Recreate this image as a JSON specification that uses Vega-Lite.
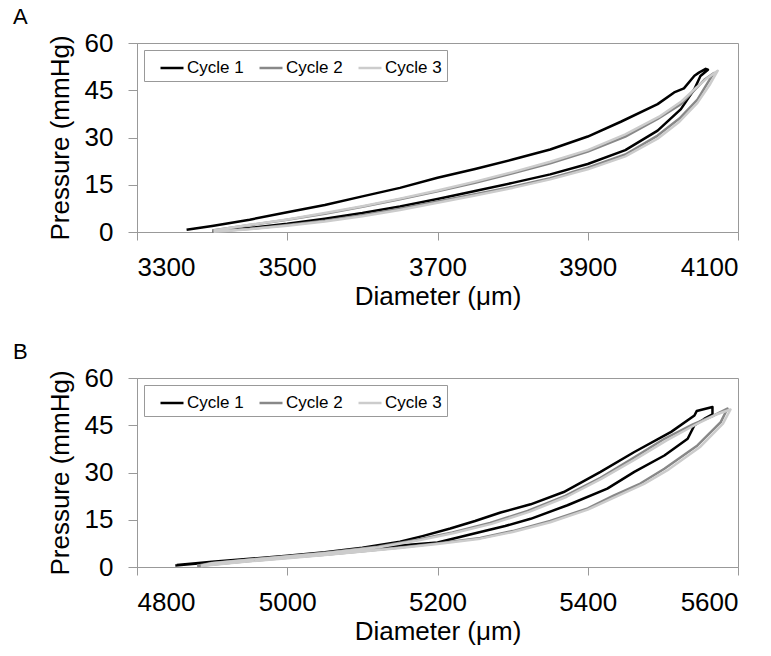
{
  "$schema": "https://vega.github.io/schema/vega-lite/v6.json",
  "background": "white",
  "padding": {"left": 12, "top": 5, "right": 4, "bottom": 5},
  "spacing": 30,
  "config": {
    "font": "Liberation Sans",
    "view": {"stroke": "#999999", "strokeWidth": 1},
    "axis": {
      "grid": false,
      "domainColor": "#999999",
      "tickColor": "#999999",
      "labelColor": "black",
      "titleColor": "black",
      "labelFontSize": 26,
      "titleFontSize": 26,
      "titleFontWeight": "normal",
      "labelFont": "Liberation Sans",
      "titleFont": "Liberation Sans",
      "format": "d"
    },
    "axisX": {"tickSize": 8, "labelPadding": 14, "titlePadding": 3},
    "axisY": {"tickSize": 9, "labelPadding": 15, "titlePadding": 11},
    "title": {"fontSize": 22, "fontWeight": "normal", "anchor": "start", "frame": "bounds", "dx": -34, "offset": 1, "font": "Liberation Sans", "color": "black"},
    "legend": {
      "orient": "top-left",
      "offset": 7,
      "direction": "horizontal",
      "title": null,
      "strokeColor": "#999999",
      "fillColor": "white",
      "padding": 5,
      "symbolType": "stroke",
      "symbolSize": 529,
      "symbolStrokeWidth": 2.5,
      "labelFontSize": 17,
      "labelFont": "Liberation Sans",
      "labelColor": "black",
      "labelOffset": 2,
      "columnPadding": 4,
      "symbolOffset": 10
    }
  },
  "datasets": {
    "a": [
      {"c":"Cycle 1","i":1,"d":3400,"p":0.2},{"c":"Cycle 1","i":2,"d":3450,"p":1.3},{"c":"Cycle 1","i":3,"d":3500,"p":2.6},{"c":"Cycle 1","i":4,"d":3550,"p":4.2},{"c":"Cycle 1","i":5,"d":3600,"p":6.0},{"c":"Cycle 1","i":6,"d":3650,"p":8.1},{"c":"Cycle 1","i":7,"d":3700,"p":10.5},{"c":"Cycle 1","i":8,"d":3750,"p":13.0},{"c":"Cycle 1","i":9,"d":3800,"p":15.6},{"c":"Cycle 1","i":10,"d":3850,"p":18.3},{"c":"Cycle 1","i":11,"d":3900,"p":21.6},{"c":"Cycle 1","i":12,"d":3950,"p":26.0},{"c":"Cycle 1","i":13,"d":3993,"p":32.2},{"c":"Cycle 1","i":14,"d":4024,"p":39.0},{"c":"Cycle 1","i":15,"d":4042,"p":45.4},{"c":"Cycle 1","i":16,"d":4050,"p":49.5},{"c":"Cycle 1","i":17,"d":4060,"p":51.5},
      {"c":"Cycle 1","i":18,"d":4057,"p":51.8},{"c":"Cycle 1","i":19,"d":4048,"p":50.6},{"c":"Cycle 1","i":20,"d":4042,"p":49.6},{"c":"Cycle 1","i":21,"d":4028,"p":45.6},{"c":"Cycle 1","i":22,"d":4015,"p":44.3},{"c":"Cycle 1","i":23,"d":3993,"p":40.6},{"c":"Cycle 1","i":24,"d":3944,"p":35.0},{"c":"Cycle 1","i":25,"d":3900,"p":30.3},{"c":"Cycle 1","i":26,"d":3850,"p":26.2},{"c":"Cycle 1","i":27,"d":3800,"p":23.0},{"c":"Cycle 1","i":28,"d":3750,"p":20.0},{"c":"Cycle 1","i":29,"d":3700,"p":17.2},{"c":"Cycle 1","i":30,"d":3650,"p":14.0},{"c":"Cycle 1","i":31,"d":3600,"p":11.3},{"c":"Cycle 1","i":32,"d":3550,"p":8.6},{"c":"Cycle 1","i":33,"d":3500,"p":6.3},{"c":"Cycle 1","i":34,"d":3450,"p":3.9},{"c":"Cycle 1","i":35,"d":3400,"p":1.9},{"c":"Cycle 1","i":36,"d":3366,"p":0.7},
      {"c":"Cycle 2","i":1,"d":3400,"p":0.1},{"c":"Cycle 2","i":2,"d":3450,"p":1.0},{"c":"Cycle 2","i":3,"d":3500,"p":2.2},{"c":"Cycle 2","i":4,"d":3550,"p":3.6},{"c":"Cycle 2","i":5,"d":3600,"p":5.3},{"c":"Cycle 2","i":6,"d":3650,"p":7.4},{"c":"Cycle 2","i":7,"d":3700,"p":9.7},{"c":"Cycle 2","i":8,"d":3750,"p":12.0},{"c":"Cycle 2","i":9,"d":3800,"p":14.4},{"c":"Cycle 2","i":10,"d":3850,"p":17.1},{"c":"Cycle 2","i":11,"d":3900,"p":20.4},{"c":"Cycle 2","i":12,"d":3950,"p":24.6},{"c":"Cycle 2","i":13,"d":3993,"p":30.6},{"c":"Cycle 2","i":14,"d":4022,"p":36.0},{"c":"Cycle 2","i":15,"d":4046,"p":42.0},{"c":"Cycle 2","i":16,"d":4060,"p":47.5},{"c":"Cycle 2","i":17,"d":4068,"p":50.5},
      {"c":"Cycle 2","i":18,"d":4056,"p":48.5},{"c":"Cycle 2","i":19,"d":4042,"p":45.0},{"c":"Cycle 2","i":20,"d":4024,"p":40.6},{"c":"Cycle 2","i":21,"d":3993,"p":35.9},{"c":"Cycle 2","i":22,"d":3950,"p":30.3},{"c":"Cycle 2","i":23,"d":3900,"p":25.5},{"c":"Cycle 2","i":24,"d":3850,"p":21.8},{"c":"Cycle 2","i":25,"d":3800,"p":18.6},{"c":"Cycle 2","i":26,"d":3750,"p":15.6},{"c":"Cycle 2","i":27,"d":3700,"p":12.9},{"c":"Cycle 2","i":28,"d":3650,"p":10.4},{"c":"Cycle 2","i":29,"d":3600,"p":8.0},{"c":"Cycle 2","i":30,"d":3550,"p":5.8},{"c":"Cycle 2","i":31,"d":3500,"p":3.9},{"c":"Cycle 2","i":32,"d":3450,"p":2.2},{"c":"Cycle 2","i":33,"d":3400,"p":0.5},
      {"c":"Cycle 3","i":1,"d":3402,"p":0.1},{"c":"Cycle 3","i":2,"d":3450,"p":0.9},{"c":"Cycle 3","i":3,"d":3500,"p":2.0},{"c":"Cycle 3","i":4,"d":3550,"p":3.3},{"c":"Cycle 3","i":5,"d":3600,"p":5.0},{"c":"Cycle 3","i":6,"d":3650,"p":7.0},{"c":"Cycle 3","i":7,"d":3700,"p":9.3},{"c":"Cycle 3","i":8,"d":3750,"p":11.6},{"c":"Cycle 3","i":9,"d":3800,"p":14.0},{"c":"Cycle 3","i":10,"d":3850,"p":16.7},{"c":"Cycle 3","i":11,"d":3900,"p":19.9},{"c":"Cycle 3","i":12,"d":3950,"p":24.0},{"c":"Cycle 3","i":13,"d":3993,"p":29.6},{"c":"Cycle 3","i":14,"d":4022,"p":35.0},{"c":"Cycle 3","i":15,"d":4046,"p":41.0},{"c":"Cycle 3","i":16,"d":4063,"p":47.0},{"c":"Cycle 3","i":17,"d":4073,"p":51.2},
      {"c":"Cycle 3","i":18,"d":4060,"p":49.0},{"c":"Cycle 3","i":19,"d":4045,"p":46.0},{"c":"Cycle 3","i":20,"d":4025,"p":41.5},{"c":"Cycle 3","i":21,"d":3995,"p":36.6},{"c":"Cycle 3","i":22,"d":3950,"p":31.0},{"c":"Cycle 3","i":23,"d":3900,"p":26.0},{"c":"Cycle 3","i":24,"d":3850,"p":22.3},{"c":"Cycle 3","i":25,"d":3800,"p":19.0},{"c":"Cycle 3","i":26,"d":3750,"p":16.0},{"c":"Cycle 3","i":27,"d":3700,"p":13.2},{"c":"Cycle 3","i":28,"d":3650,"p":10.6},{"c":"Cycle 3","i":29,"d":3600,"p":8.2},{"c":"Cycle 3","i":30,"d":3550,"p":6.0},{"c":"Cycle 3","i":31,"d":3500,"p":4.0},{"c":"Cycle 3","i":32,"d":3450,"p":2.3},{"c":"Cycle 3","i":33,"d":3402,"p":0.5}
    ],
    "b": [
      {"c":"Cycle 1","i":1,"d":4851,"p":0.5},{"c":"Cycle 1","i":2,"d":4900,"p":1.5},{"c":"Cycle 1","i":3,"d":4950,"p":2.4},{"c":"Cycle 1","i":4,"d":5000,"p":3.3},{"c":"Cycle 1","i":5,"d":5050,"p":4.3},{"c":"Cycle 1","i":6,"d":5100,"p":5.4},{"c":"Cycle 1","i":7,"d":5150,"p":6.8},{"c":"Cycle 1","i":8,"d":5200,"p":7.8},{"c":"Cycle 1","i":9,"d":5257,"p":11.1},{"c":"Cycle 1","i":10,"d":5290,"p":13.0},{"c":"Cycle 1","i":11,"d":5324,"p":15.3},{"c":"Cycle 1","i":12,"d":5373,"p":19.6},{"c":"Cycle 1","i":13,"d":5426,"p":24.9},{"c":"Cycle 1","i":14,"d":5462,"p":30.2},{"c":"Cycle 1","i":15,"d":5502,"p":35.4},{"c":"Cycle 1","i":16,"d":5533,"p":40.7},{"c":"Cycle 1","i":17,"d":5542,"p":45.0},{"c":"Cycle 1","i":18,"d":5555,"p":47.0},{"c":"Cycle 1","i":19,"d":5566,"p":48.5},{"c":"Cycle 1","i":20,"d":5566,"p":50.8},
      {"c":"Cycle 1","i":21,"d":5545,"p":49.5},{"c":"Cycle 1","i":22,"d":5542,"p":48.1},{"c":"Cycle 1","i":23,"d":5511,"p":42.9},{"c":"Cycle 1","i":24,"d":5462,"p":36.5},{"c":"Cycle 1","i":25,"d":5417,"p":30.2},{"c":"Cycle 1","i":26,"d":5368,"p":23.8},{"c":"Cycle 1","i":27,"d":5324,"p":19.9},{"c":"Cycle 1","i":28,"d":5284,"p":17.3},{"c":"Cycle 1","i":29,"d":5250,"p":14.6},{"c":"Cycle 1","i":30,"d":5217,"p":12.2},{"c":"Cycle 1","i":31,"d":5180,"p":9.8},{"c":"Cycle 1","i":32,"d":5150,"p":8.0},{"c":"Cycle 1","i":33,"d":5100,"p":6.1},{"c":"Cycle 1","i":34,"d":5050,"p":4.7},{"c":"Cycle 1","i":35,"d":5000,"p":3.6},{"c":"Cycle 1","i":36,"d":4950,"p":2.6},{"c":"Cycle 1","i":37,"d":4900,"p":1.7},{"c":"Cycle 1","i":38,"d":4853,"p":0.6},
      {"c":"Cycle 2","i":1,"d":4880,"p":0.3},{"c":"Cycle 2","i":2,"d":4950,"p":1.9},{"c":"Cycle 2","i":3,"d":5000,"p":2.9},{"c":"Cycle 2","i":4,"d":5050,"p":3.9},{"c":"Cycle 2","i":5,"d":5100,"p":5.0},{"c":"Cycle 2","i":6,"d":5150,"p":6.2},{"c":"Cycle 2","i":7,"d":5200,"p":7.5},{"c":"Cycle 2","i":8,"d":5257,"p":9.2},{"c":"Cycle 2","i":9,"d":5300,"p":11.4},{"c":"Cycle 2","i":10,"d":5350,"p":14.6},{"c":"Cycle 2","i":11,"d":5400,"p":18.6},{"c":"Cycle 2","i":12,"d":5435,"p":22.7},{"c":"Cycle 2","i":13,"d":5470,"p":26.5},{"c":"Cycle 2","i":14,"d":5502,"p":31.2},{"c":"Cycle 2","i":15,"d":5546,"p":38.6},{"c":"Cycle 2","i":16,"d":5577,"p":46.0},{"c":"Cycle 2","i":17,"d":5586,"p":50.3},
      {"c":"Cycle 2","i":18,"d":5568,"p":48.1},{"c":"Cycle 2","i":19,"d":5540,"p":45.3},{"c":"Cycle 2","i":20,"d":5502,"p":40.7},{"c":"Cycle 2","i":21,"d":5460,"p":34.5},{"c":"Cycle 2","i":22,"d":5417,"p":28.3},{"c":"Cycle 2","i":23,"d":5370,"p":22.6},{"c":"Cycle 2","i":24,"d":5320,"p":17.8},{"c":"Cycle 2","i":25,"d":5270,"p":14.0},{"c":"Cycle 2","i":26,"d":5220,"p":11.0},{"c":"Cycle 2","i":27,"d":5170,"p":8.5},{"c":"Cycle 2","i":28,"d":5120,"p":6.4},{"c":"Cycle 2","i":29,"d":5050,"p":4.5},{"c":"Cycle 2","i":30,"d":5000,"p":3.4},{"c":"Cycle 2","i":31,"d":4950,"p":2.4},{"c":"Cycle 2","i":32,"d":4900,"p":1.3},{"c":"Cycle 2","i":33,"d":4880,"p":0.4},
      {"c":"Cycle 3","i":1,"d":4885,"p":0.3},{"c":"Cycle 3","i":2,"d":4950,"p":1.8},{"c":"Cycle 3","i":3,"d":5000,"p":2.8},{"c":"Cycle 3","i":4,"d":5050,"p":3.8},{"c":"Cycle 3","i":5,"d":5100,"p":4.9},{"c":"Cycle 3","i":6,"d":5150,"p":6.0},{"c":"Cycle 3","i":7,"d":5200,"p":7.3},{"c":"Cycle 3","i":8,"d":5257,"p":9.0},{"c":"Cycle 3","i":9,"d":5300,"p":11.1},{"c":"Cycle 3","i":10,"d":5350,"p":14.2},{"c":"Cycle 3","i":11,"d":5400,"p":18.2},{"c":"Cycle 3","i":12,"d":5440,"p":22.6},{"c":"Cycle 3","i":13,"d":5475,"p":26.4},{"c":"Cycle 3","i":14,"d":5508,"p":31.0},{"c":"Cycle 3","i":15,"d":5550,"p":38.2},{"c":"Cycle 3","i":16,"d":5580,"p":45.5},{"c":"Cycle 3","i":17,"d":5590,"p":50.0},
      {"c":"Cycle 3","i":18,"d":5572,"p":48.5},{"c":"Cycle 3","i":19,"d":5542,"p":45.0},{"c":"Cycle 3","i":20,"d":5505,"p":40.2},{"c":"Cycle 3","i":21,"d":5462,"p":34.0},{"c":"Cycle 3","i":22,"d":5418,"p":28.0},{"c":"Cycle 3","i":23,"d":5372,"p":22.3},{"c":"Cycle 3","i":24,"d":5322,"p":17.5},{"c":"Cycle 3","i":25,"d":5272,"p":13.7},{"c":"Cycle 3","i":26,"d":5222,"p":10.8},{"c":"Cycle 3","i":27,"d":5172,"p":8.3},{"c":"Cycle 3","i":28,"d":5122,"p":6.3},{"c":"Cycle 3","i":29,"d":5050,"p":4.4},{"c":"Cycle 3","i":30,"d":5000,"p":3.3},{"c":"Cycle 3","i":31,"d":4950,"p":2.3},{"c":"Cycle 3","i":32,"d":4900,"p":1.2},{"c":"Cycle 3","i":33,"d":4885,"p":0.4}
    ]
  },
  "resolve": {"legend": {"color": "independent"}},
  "vconcat": [
    {
      "title": "A",
      "width": 601,
      "height": 189,
      "data": {"name": "a"},
      "mark": {"type": "line", "strokeWidth": 2.5, "strokeJoin": "round"},
      "encoding": {
        "x": {"field": "d", "type": "quantitative", "scale": {"domain": [3300, 4100], "nice": false, "zero": false}, "axis": {"values": [3300, 3500, 3700, 3900, 4100], "title": "Diameter (μm)"}},
        "y": {"field": "p", "type": "quantitative", "scale": {"domain": [0, 60], "nice": false}, "axis": {"values": [0, 15, 30, 45, 60], "title": "Pressure (mmHg)"}},
        "color": {"field": "c", "type": "nominal", "scale": {"domain": ["Cycle 1", "Cycle 2", "Cycle 3"], "range": ["#000000", "#888888", "#cccccc"]}},
        "order": {"field": "i", "type": "quantitative"}
      }
    },
    {
      "title": "B",
      "width": 601,
      "height": 189,
      "data": {"name": "b"},
      "mark": {"type": "line", "strokeWidth": 2.5, "strokeJoin": "round"},
      "encoding": {
        "x": {"field": "d", "type": "quantitative", "scale": {"domain": [4800, 5600], "nice": false, "zero": false}, "axis": {"values": [4800, 5000, 5200, 5400, 5600], "title": "Diameter (μm)"}},
        "y": {"field": "p", "type": "quantitative", "scale": {"domain": [0, 60], "nice": false}, "axis": {"values": [0, 15, 30, 45, 60], "title": "Pressure (mmHg)"}},
        "color": {"field": "c", "type": "nominal", "scale": {"domain": ["Cycle 1", "Cycle 2", "Cycle 3"], "range": ["#000000", "#888888", "#cccccc"]}},
        "order": {"field": "i", "type": "quantitative"}
      }
    }
  ]
}
